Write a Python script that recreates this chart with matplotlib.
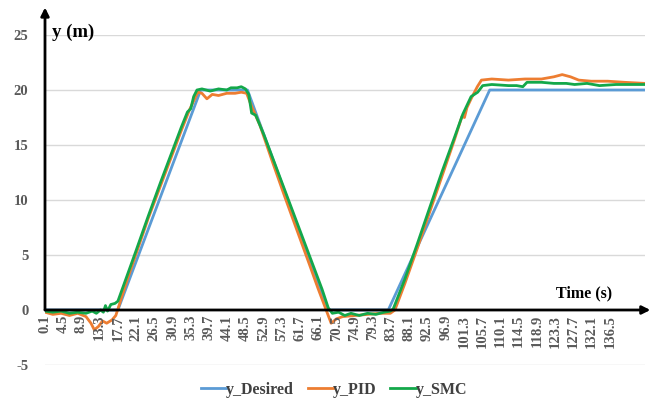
import matplotlib
matplotlib.use("Agg")
import matplotlib.pyplot as plt

# ---- data ---------------------------------------------------------------
t_desired = [0.1, 17.7, 37.7, 49.0, 68.5, 83.0, 107.5, 145.0]
y_desired = [0, 0, 20, 20, 0, 0, 20, 20]

t_pid = [0.1, 2, 4, 6, 8, 10, 11.2, 12, 13, 14, 15, 16.3, 17.2, 17.8, 20, 22, 25,
         28, 31, 33, 35, 36, 37, 38, 39.2, 40.5, 42, 44, 46, 47.5, 48.8, 50, 52,
         55, 58, 61, 64, 66, 67.5, 68.6, 69.2, 70.5, 72, 75, 78, 81, 83.5, 84.6,
         87, 90, 93, 96, 99, 100.8, 101.4, 102, 103, 104.5, 105.5, 108, 112, 116,
         120, 123, 125, 127, 129, 132, 136, 140, 145]
y_pid = [-0.2, -0.4, -0.3, -0.5, -0.3, -0.6, -1.2, -1.8, -1.5, -1.0, -1.2, -0.9,
         -0.5, 0.2, 2.8, 5.0, 8.3, 11.3, 14.3, 16.3, 18.2, 19.0, 19.8, 19.7, 19.2,
         19.6, 19.5, 19.7, 19.7, 19.8, 19.7, 18.5, 16.8, 13.5, 10.3, 7.2, 4.1, 2.0,
         0.5, -0.6, -1.2, -0.8, -0.6, -0.5, -0.4, -0.3, -0.3, 0.0, 2.4, 5.6, 8.9,
         12.2, 15.5, 17.6, 17.5, 18.4, 19.2, 20.3, 20.9, 21.0, 20.9, 21.0, 21.0,
         21.2, 21.4, 21.2, 20.9, 20.8, 20.8, 20.7, 20.6]

t_smc = [0.1, 2, 4, 6, 8, 10, 11.5, 12.5, 13.5, 14.2, 14.7, 15.2, 16, 17, 17.7,
         20, 22, 25, 28, 31, 33, 34.5, 35.3, 36, 36.8, 38, 40, 42, 44, 45, 46.5,
         47.5, 48.5, 49.3, 50, 51, 53, 56, 59, 62, 65, 67, 68.5, 69.5, 71, 72.5,
         74, 76, 78, 80, 82, 83.5, 84.2, 87, 90, 93, 96, 99, 101, 103, 104.6,
         105.8, 108, 112, 114, 115.5, 116.5, 120, 123, 126, 128, 131, 134, 138,
         141, 145]
y_smc = [-0.1, -0.2, -0.1, -0.3, -0.2, -0.3, -0.1, -0.3, 0.0, -0.2, 0.4, -0.1,
         0.5, 0.6, 0.8, 3.2, 5.3, 8.5, 11.6, 14.6, 16.6, 18.0, 18.3, 19.4, 20.0,
         20.1, 19.9, 20.1, 20.0, 20.2, 20.2, 20.3, 20.1, 19.6, 17.9, 17.7, 15.9,
         12.9, 9.9, 6.9, 3.9, 1.9, 0.2, -0.3, -0.2, -0.5, -0.3, -0.5, -0.3, -0.4,
         -0.2, -0.1, 0.1, 2.8, 6.0, 9.3, 12.6, 15.7, 17.8, 19.4, 19.8, 20.4, 20.5,
         20.4, 20.4, 20.3, 20.7, 20.7, 20.6, 20.6, 20.5, 20.6, 20.4, 20.5, 20.5,
         20.5]

x_tick_values = [round(0.1 + 4.4 * k, 1) for k in range(32)]
y_tick_values = [-5, 0, 5, 10, 15, 20, 25]

# ---- figure -------------------------------------------------------------
W, H = 653, 403
fig = plt.figure(figsize=(W / 100, H / 100), dpi=100)
ax = fig.add_axes([45 / W, (H - 365) / H, 600 / W, 330 / H])

serif = ["Liberation Serif", "DejaVu Serif"]
tick_color = "#595959"

ax.plot(t_desired, y_desired, color="#5B9BD5", lw=2.0, label="y_Desired",
        solid_joinstyle="round", zorder=3)
ax.plot(t_pid, y_pid, color="#ED7D31", lw=2.0, label="y_PID",
        solid_joinstyle="round", zorder=4)
ax.plot(t_smc, y_smc, color="#13A84A", lw=2.0, label="y_SMC",
        solid_joinstyle="round", zorder=5)

ax.set_xlim(0.1, 145)
ax.set_ylim(-5, 25)

for s in ax.spines.values():
    s.set_visible(False)

# horizontal gridlines
for v in y_tick_values:
    if v != 0:
        ax.axhline(v, color="#D9D9D9", lw=1.0, zorder=1)

ax.set_xticks([])
ax.set_yticks(y_tick_values)
ax.set_yticklabels([str(v) for v in y_tick_values], fontfamily=serif,
                   fontweight="bold", fontsize=10.5, color=tick_color)
ax.tick_params(axis="y", length=0, pad=12)

# category labels hanging under the zero line
for v in x_tick_values:
    ax.text(v, -0.45, f"{v:.1f}", rotation=90, ha="center", va="top",
            fontfamily=serif, fontweight="bold", fontsize=10.5,
            color=tick_color, zorder=6)

# axes drawn as arrows
ax.annotate("", xy=(146.3, 0), xytext=(0.1, 0),
            arrowprops=dict(arrowstyle="-|>", color="black", lw=2.0,
                            mutation_scale=12, shrinkA=0, shrinkB=0),
            annotation_clip=False, zorder=7)
ax.annotate("", xy=(0.1, 27.5), xytext=(0.1, 0),
            arrowprops=dict(arrowstyle="-|>", color="black", lw=2.0,
                            mutation_scale=12, shrinkA=0, shrinkB=0),
            annotation_clip=False, zorder=7)

ax.text(1.8, 25.2, "y (m)", ha="left", va="center", fontfamily=serif,
        fontweight="bold", fontsize=13.5, color="black")
ax.text(137.0, 1.55, "Time (s)", ha="right", va="center", fontfamily=serif,
        fontweight="bold", fontsize=11.5, color="black")

leg = fig.legend(loc="center", bbox_to_anchor=(334 / W, 13 / H), ncol=3,
                 frameon=False, handlelength=1.6, handletextpad=0.0,
                 columnspacing=0.85,
                 prop={"family": serif, "weight": "bold", "size": 11.5})
for txt in leg.get_texts():
    txt.set_color("#404040")

fig.savefig("out.png", dpi=100)
